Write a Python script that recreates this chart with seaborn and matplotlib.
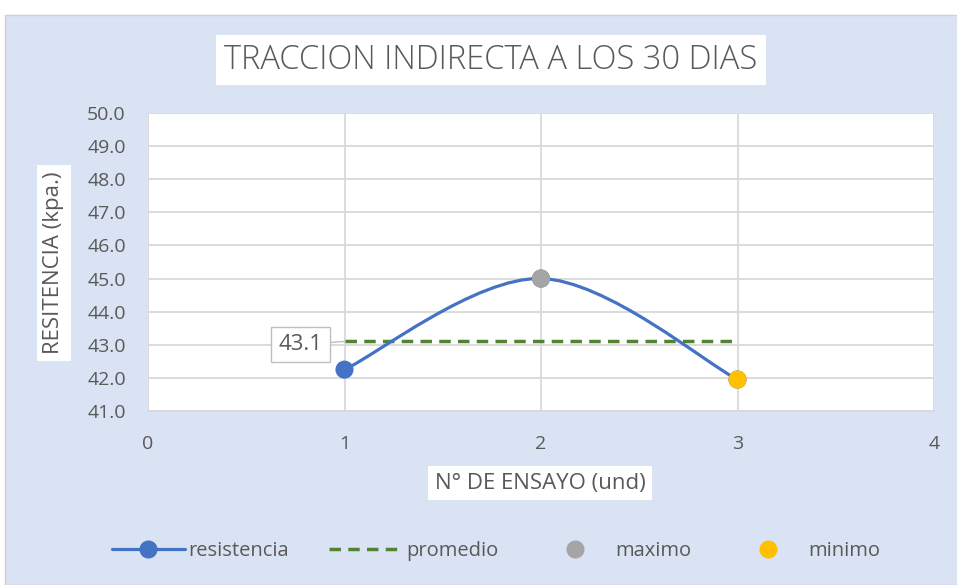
import numpy as np
import pandas as pd
import matplotlib
matplotlib.use("Agg")
import matplotlib.pyplot as plt
from matplotlib.path import Path
from matplotlib.patches import PathPatch, Rectangle
from matplotlib.lines import Line2D
import seaborn as sns

# ─── Data ─────────────────────────────────────────────────────────────────────

ensayo       = [1, 2, 3]
resistencia  = [42.25, 45.0, 41.95]
promedio     = [43.1, 43.1, 43.1]
maximo_x     = [2]
maximo_y     = [45.0]
minimo_x     = [3]
minimo_y     = [41.95]
promedio_lbl = "43.1"

TITLE  = "TRACCION INDIRECTA A LOS 30 DIAS"
XLABEL = "N° DE ENSAYO (und)"
YLABEL = "RESITENCIA (kpa.)"

# ─── Style ────────────────────────────────────────────────────────────────────

BLUE   = "#4472C4"
GREEN  = "#548235"
GRAY   = "#A5A5A5"
GOLD   = "#FFC000"
BG     = "#DAE3F3"
GRID   = "#D9D9D9"
TXT    = "#595959"
DASH   = (0, (3.3, 2.1))

sns.set_theme(style="white")
plt.rcParams["font.family"] = ["Open Sans", "DejaVu Sans"]

W, H = 957, 585
fig = plt.figure(figsize=(W / 100, H / 100), dpi=100)
fig.patch.set_facecolor("white")
fig.patches.append(Rectangle((5 / W, 0), 1, 1 - 15 / H, transform=fig.transFigure,
                             facecolor=BG, edgecolor="#D0D0D0", lw=1, zorder=-10))

ax = fig.add_axes([148 / W, 1 - 411 / H, (934 - 148) / W, (411 - 113) / H])
ax.set_facecolor("white")

# smooth line (Excel-like cubic bezier through the points)
pts = np.column_stack([ensayo, resistencia]).astype(float)
verts = [tuple(pts[0])]
codes = [Path.MOVETO]
n = len(pts)
for i in range(n - 1):
    p0 = pts[max(i - 1, 0)]
    p1 = pts[i]
    p2 = pts[i + 1]
    p3 = pts[min(i + 2, n - 1)]
    c1 = p1 + (p2 - p0) / 6.0
    c2 = p2 - (p3 - p1) / 6.0
    verts += [tuple(c1), tuple(c2), tuple(p2)]
    codes += [Path.CURVE4] * 3
ax.add_patch(PathPatch(Path(verts, codes), facecolor="none", edgecolor=BLUE, lw=2.3, zorder=3))

df = pd.DataFrame({"ensayo": ensayo, "resistencia": resistencia, "promedio": promedio})
sns.lineplot(data=df, x="ensayo", y="promedio", ax=ax, color=GREEN, lw=2.5,
             linestyle=DASH, zorder=2)
sns.scatterplot(data=df, x="ensayo", y="resistencia", ax=ax, color=BLUE, s=170,
                edgecolor="none", zorder=4)
sns.scatterplot(x=maximo_x, y=maximo_y, ax=ax, color=GRAY, s=170, edgecolor="none", zorder=5)
sns.scatterplot(x=minimo_x, y=minimo_y, ax=ax, color=GOLD, s=170, edgecolor="none", zorder=5)

ax.annotate(promedio_lbl, xy=(ensayo[0], promedio[0]), xytext=(-22, -3), textcoords="offset pixels",
            ha="right", va="center", fontsize=16, color=TXT,
            bbox=dict(boxstyle="square,pad=0.33", fc="white", ec="#BFBFBF", lw=1),
            arrowprops=dict(arrowstyle="-", color="#BFBFBF", lw=1, shrinkA=0, shrinkB=0))

ax.set_xlim(0, 4)
ax.set_ylim(41, 50)
ax.set_xticks(range(0, 5))
ax.set_yticks(np.arange(41, 50.5, 1))
ax.yaxis.set_major_formatter(matplotlib.ticker.FormatStrFormatter("%.1f"))
ax.grid(True, color=GRID, lw=1.3)
ax.set_axisbelow(True)
for s in ["top", "right", "left"]:
    ax.spines[s].set_visible(False)
ax.spines["bottom"].set_color(GRID)
ax.spines["bottom"].set_linewidth(1.3)
ax.tick_params(axis="both", length=0, labelsize=14, labelcolor=TXT)
ax.tick_params(axis="y", pad=16)
ax.tick_params(axis="x", pad=17)
ax.set_xlabel("")
ax.set_ylabel("")

fig.text(491 / W, 1 - 60 / H, TITLE, ha="center", va="center", fontsize=23.5, color=TXT,
         fontweight="light",
         bbox=dict(boxstyle="square,pad=0.25", fc="white", ec="none"))
fig.text(540 / W, 1 - 483 / H, XLABEL, ha="center", va="center", fontsize=16, color=TXT,
         bbox=dict(boxstyle="square,pad=0.3", fc="white", ec="none"))
fig.text(54 / W, 1 - 263 / H, YLABEL, ha="center", va="center", rotation=90, fontsize=16,
         color=TXT, bbox=dict(boxstyle="square,pad=0.3", fc="white", ec="none"))

handles = [
    Line2D([], [], color=BLUE, lw=2.3, marker="o", ms=12),
    Line2D([], [], color=GREEN, lw=2.5, linestyle=DASH),
    Line2D([], [], color=GRAY, lw=0, marker="o", ms=12),
    Line2D([], [], color=GOLD, lw=0, marker="o", ms=12),
]
labels = ["resistencia", "promedio", "maximo", "minimo"]
fig.legend(handles, labels, loc="center", bbox_to_anchor=(496 / W, 1 - 551 / H), ncol=4,
           frameon=False, fontsize=14.5, labelcolor=TXT, handlelength=3.6, handletextpad=0.2,
           columnspacing=2.0)

fig.savefig("out.png", dpi=100, facecolor=fig.get_facecolor())
